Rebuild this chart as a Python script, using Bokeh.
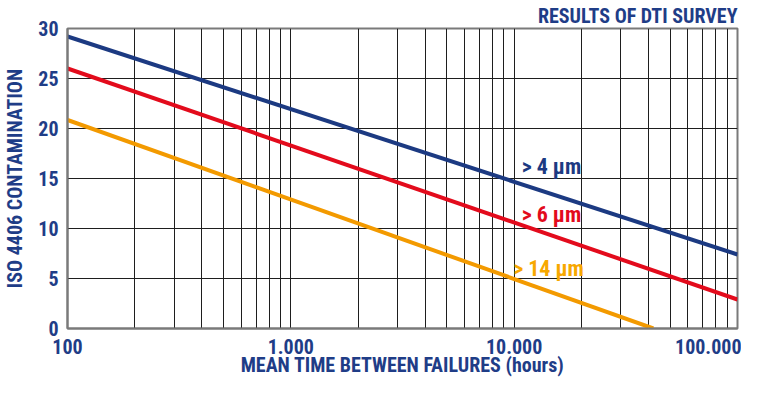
from bokeh.plotting import figure
from bokeh.models import Range1d, FixedTicker, LabelSet, ColumnDataSource, Title, BasicTickFormatter
from bokeh.core.properties import value
from bokeh.embed import file_html
from bokeh.resources import INLINE

# ---- data ----
x_ticks = [100, 1000, 10000, 100000]
x_tick_labels = ["100", "1.000", "10.000", "100.000"]
x_minor_ticks = [200, 300, 400, 500, 600, 700, 800, 900,
                 2000, 3000, 4000, 5000, 6000, 7000, 8000, 9000,
                 20000, 30000, 40000, 50000, 60000, 70000, 80000, 90000]
y_ticks = [0, 5, 10, 15, 20, 25, 30]

mtbf_4um = [100, 100000]
iso_4um = [29.2, 7.4]
mtbf_6um = [100, 100000]
iso_6um = [26.0, 2.9]
mtbf_14um = [100, 42000]
iso_14um = [20.85, 0.0]

series_labels = ["> 4 µm", "> 6 µm", "> 14 µm"]
label_x = [10800, 10800, 9900]
label_y = [16.2, 11.4, 6.0]

# ---- style ----
FONT = "Roboto Condensed, Liberation Sans Narrow, Roboto, sans-serif"
TXT = "#1f3d87"
BLUE = "#1c3a82"
RED = "#e30b1c"
ORANGE = "#f39a00"
ORANGE_TXT = "#f7a800"
GRID = "#1e1e1e"
AXIS = "#7a7a7a"

p = figure(width=741, height=387, x_axis_type="log",
           x_range=Range1d(100, 100000), y_range=Range1d(0, 30),
           min_border_left=63, min_border_right=4, min_border_top=26, min_border_bottom=59,
           output_backend="svg", toolbar_location=None)
p.background_fill_color = "white"
p.border_fill_color = "white"
p.outline_line_color = AXIS
p.outline_line_width = 2

# x axis
p.xaxis.ticker = FixedTicker(ticks=x_ticks, minor_ticks=x_minor_ticks)
p.xaxis.formatter = BasicTickFormatter()
p.xaxis.major_label_overrides = dict(zip(x_ticks, x_tick_labels))
p.xaxis.major_label_text_font = FONT
p.xaxis.major_label_text_font_size = "20px"
p.xaxis.major_label_text_font_style = "bold"
p.xaxis.major_label_text_color = TXT
p.xaxis.major_label_standoff = 6
p.xaxis.axis_label = "MEAN TIME BETWEEN FAILURES (hours)"
p.xaxis.axis_label_text_font = FONT
p.xaxis.axis_label_text_font_size = "20px"
p.xaxis.axis_label_text_font_style = "bold"
p.xaxis.axis_label_text_color = TXT
p.xaxis.axis_label_standoff = -4

# y axis
p.yaxis.ticker = FixedTicker(ticks=y_ticks)
p.yaxis.major_label_text_font = FONT
p.yaxis.major_label_text_font_size = "20px"
p.yaxis.major_label_text_font_style = "bold"
p.yaxis.major_label_text_color = TXT
p.yaxis.major_label_standoff = 9
p.yaxis.axis_label = "ISO 4406 CONTAMINATION"
p.yaxis.axis_label_text_font = FONT
p.yaxis.axis_label_text_font_size = "20px"
p.yaxis.axis_label_text_font_style = "bold"
p.yaxis.axis_label_text_color = TXT
p.yaxis.axis_label_standoff = 8

for ax in (p.xaxis[0], p.yaxis[0]):
    ax.axis_line_color = AXIS
    ax.axis_line_width = 2
    ax.major_tick_line_color = None
    ax.minor_tick_line_color = None
    ax.major_tick_out = 0
    ax.major_tick_in = 0

p.xgrid.grid_line_color = GRID
p.xgrid.grid_line_width = 1
p.xgrid.minor_grid_line_color = GRID
p.xgrid.minor_grid_line_width = 1
p.ygrid.grid_line_color = GRID
p.ygrid.grid_line_width = 1

# lines
p.line(mtbf_4um, iso_4um, line_color=BLUE, line_width=4)
p.line(mtbf_6um, iso_6um, line_color=RED, line_width=4)
p.line(mtbf_14um, iso_14um, line_color=ORANGE, line_width=4)

lab_src = ColumnDataSource(dict(x=label_x, y=label_y, text=series_labels,
                                color=[BLUE, RED, ORANGE_TXT]))
p.add_layout(LabelSet(x="x", y="y", text="text", source=lab_src, text_color="color",
                      text_align="left", text_baseline="middle", text_font=value(FONT),
                      text_font_size=value("22px"), text_font_style="bold"))

title = Title(text="RESULTS OF DTI SURVEY", align="right", text_font=FONT,
              text_font_size="20px", text_font_style="bold", text_color=TXT,
              standoff=2, offset=0)
p.add_layout(title, "above")

open("out.html", "w").write(file_html(p, INLINE))
